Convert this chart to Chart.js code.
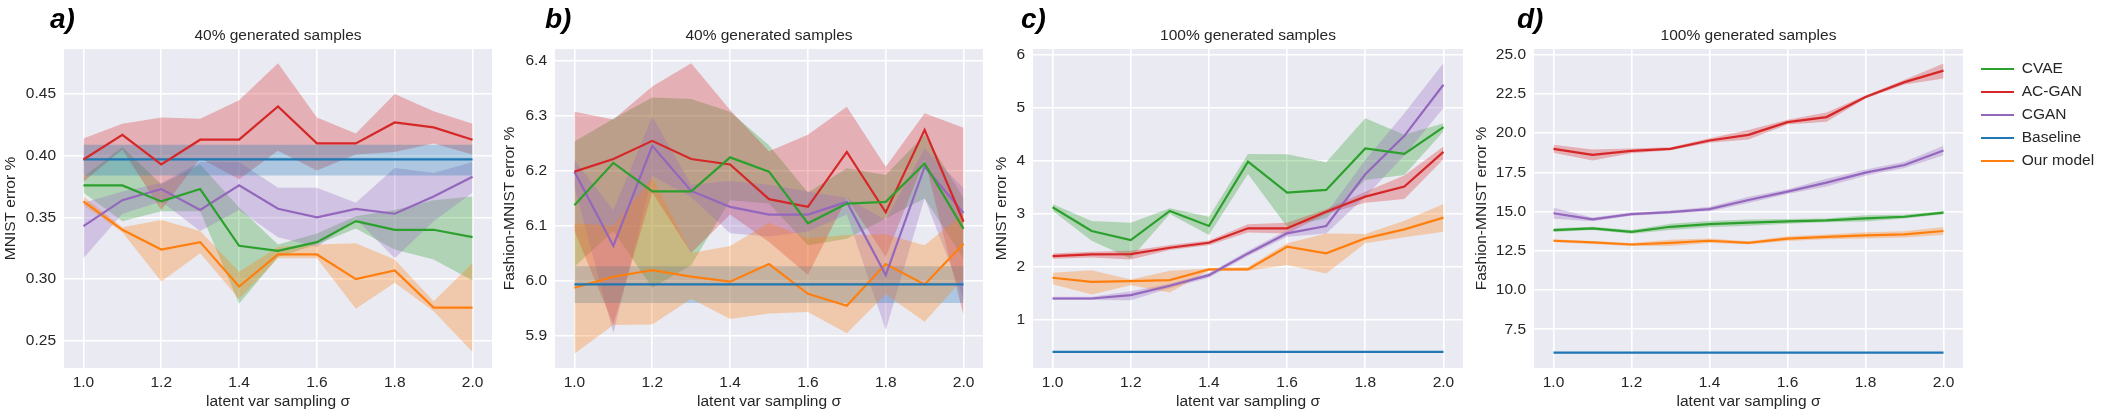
<!DOCTYPE html>
<html>
<head>
<meta charset="utf-8">
<script src="https://cdn.jsdelivr.net/npm/chart.js@4.4.1/dist/chart.umd.min.js"></script>
<style>
  html, body { margin: 0; padding: 0; background: #fff; }
  #wrap { position: relative; width: 2108px; height: 416px; }
  #wrap canvas { position: absolute; top: 0; }
</style>
</head>
<body>
<div id="wrap">
  <canvas id="pa" width="492" height="416" style="left:0px"></canvas>
  <canvas id="pb" width="483" height="416" style="left:500px"></canvas>
  <canvas id="pc" width="471" height="416" style="left:992px"></canvas>
  <canvas id="pd" width="636" height="416" style="left:1472px"></canvas>
</div>
<script>
// x values shared by every panel
const sigma = [1.0, 1.1, 1.2, 1.3, 1.4, 1.5, 1.6, 1.7, 1.8, 1.9, 2.0];
const xTicks = [1.0, 1.2, 1.4, 1.6, 1.8, 2.0];
const names = ['CVAE', 'AC-GAN', 'CGAN', 'Baseline', 'Our model'];

// a) MNIST, 40% generated samples
const aCvae     = [0.376, 0.376, 0.363, 0.373, 0.327, 0.323, 0.330, 0.347, 0.340, 0.340, 0.334];
const aCvaeLo   = [0.370, 0.347, 0.355, 0.355, 0.280, 0.318, 0.328, 0.341, 0.324, 0.316, 0.299];
const aCvaeHi   = [0.383, 0.407, 0.377, 0.393, 0.358, 0.328, 0.337, 0.351, 0.356, 0.364, 0.367];
const aAcgan    = [0.397, 0.417, 0.393, 0.413, 0.413, 0.440, 0.410, 0.410, 0.427, 0.423, 0.413];
const aAcganLo  = [0.379, 0.405, 0.356, 0.398, 0.381, 0.404, 0.388, 0.401, 0.403, 0.410, 0.401];
const aAcganHi  = [0.414, 0.426, 0.431, 0.430, 0.445, 0.475, 0.431, 0.418, 0.450, 0.436, 0.426];
const aCgan     = [0.343, 0.364, 0.373, 0.356, 0.376, 0.357, 0.350, 0.357, 0.353, 0.367, 0.383];
const aCganLo   = [0.317, 0.353, 0.363, 0.339, 0.356, 0.334, 0.326, 0.349, 0.317, 0.347, 0.370];
const aCganHi   = [0.362, 0.371, 0.378, 0.395, 0.395, 0.374, 0.374, 0.362, 0.390, 0.386, 0.395];
const aBase     = [0.397, 0.397, 0.397, 0.397, 0.397, 0.397, 0.397, 0.397, 0.397, 0.397, 0.397];
const aBaseLo   = [0.384, 0.384, 0.384, 0.384, 0.384, 0.384, 0.384, 0.384, 0.384, 0.384, 0.384];
const aBaseHi   = [0.409, 0.409, 0.409, 0.409, 0.409, 0.409, 0.409, 0.409, 0.409, 0.409, 0.409];
const aOurs     = [0.363, 0.340, 0.324, 0.330, 0.294, 0.320, 0.320, 0.300, 0.307, 0.277, 0.277];
const aOursLo   = [0.360, 0.338, 0.298, 0.321, 0.284, 0.317, 0.317, 0.276, 0.297, 0.274, 0.241];
const aOursHi   = [0.367, 0.342, 0.348, 0.339, 0.306, 0.326, 0.328, 0.329, 0.316, 0.282, 0.313];
const aYTicks   = ['0.25', '0.30', '0.35', '0.40', '0.45'];
const aYRange   = [0.228, 0.4865];

// b) Fashion-MNIST, 40% generated samples
const bCvae     = [6.137, 6.214, 6.162, 6.162, 6.224, 6.198, 6.104, 6.140, 6.143, 6.213, 6.094];
const bCvaeLo   = [6.025, 6.090, 5.987, 6.028, 6.146, 6.140, 6.064, 6.076, 6.113, 6.149, 6.040];
const bCvaeHi   = [6.253, 6.294, 6.333, 6.330, 6.307, 6.246, 6.160, 6.204, 6.192, 6.265, 6.150];
const bAcgan    = [6.198, 6.221, 6.254, 6.221, 6.211, 6.148, 6.134, 6.234, 6.124, 6.274, 6.107];
const bAcganLo  = [6.090, 5.920, 6.160, 6.050, 6.120, 6.070, 6.010, 6.150, 6.043, 6.220, 5.937];
const bAcganHi  = [6.307, 6.293, 6.353, 6.395, 6.310, 6.235, 6.265, 6.316, 6.207, 6.304, 6.278];
const bCgan     = [6.198, 6.063, 6.245, 6.163, 6.134, 6.120, 6.120, 6.143, 6.010, 6.207, 6.123];
const bCganLo   = [6.170, 5.904, 6.190, 6.152, 6.086, 6.080, 6.089, 6.120, 5.910, 6.150, 5.967];
const bCganHi   = [6.219, 6.128, 6.298, 6.174, 6.181, 6.174, 6.162, 6.150, 6.110, 6.240, 6.168];
const bBase     = [5.993, 5.993, 5.993, 5.993, 5.993, 5.993, 5.993, 5.993, 5.993, 5.993, 5.993];
const bBaseLo   = [5.959, 5.959, 5.959, 5.959, 5.959, 5.959, 5.959, 5.959, 5.959, 5.959, 5.959];
const bBaseHi   = [6.026, 6.026, 6.026, 6.026, 6.026, 6.026, 6.026, 6.026, 6.026, 6.026, 6.026];
const bOurs     = [5.987, 6.007, 6.019, 6.007, 5.998, 6.030, 5.976, 5.954, 6.030, 5.993, 6.067];
const bOursLo   = [5.867, 5.919, 5.920, 5.967, 5.930, 5.940, 5.943, 5.904, 5.975, 5.925, 6.004];
const bOursHi   = [6.104, 6.100, 6.187, 6.050, 6.063, 6.105, 6.077, 6.083, 6.084, 6.064, 6.122];
const bYTicks   = ['5.9', '6.0', '6.1', '6.2', '6.3', '6.4'];
const bYRange   = [5.841, 6.421];

// c) MNIST, 100% generated samples
const cCvae     = [3.126, 2.680, 2.510, 3.057, 2.774, 3.987, 3.403, 3.453, 4.233, 4.132, 4.635];
const cCvaeLo   = [3.063, 2.497, 2.164, 3.000, 2.604, 3.755, 2.761, 2.918, 3.642, 3.736, 4.553];
const cCvaeHi   = [3.190, 2.868, 2.836, 3.107, 2.950, 4.132, 4.126, 3.975, 4.805, 4.490, 4.711];
const cAcgan    = [2.208, 2.239, 2.245, 2.365, 2.459, 2.730, 2.730, 3.044, 3.327, 3.516, 4.170];
const cAcganLo  = [2.157, 2.180, 2.145, 2.320, 2.410, 2.650, 2.635, 3.000, 3.214, 3.283, 4.031];
const cAcganHi  = [2.258, 2.290, 2.310, 2.415, 2.500, 2.805, 2.836, 3.090, 3.421, 3.723, 4.270];
const cCgan     = [1.409, 1.409, 1.472, 1.648, 1.849, 2.258, 2.635, 2.774, 3.748, 4.472, 5.434];
const cCganLo   = [1.380, 1.380, 1.377, 1.600, 1.800, 2.210, 2.570, 2.635, 3.327, 4.100, 4.994];
const cCganHi   = [1.440, 1.440, 1.547, 1.690, 1.890, 2.310, 2.700, 3.013, 4.019, 4.899, 5.843];
const cBase     = [0.403, 0.403, 0.403, 0.403, 0.403, 0.403, 0.403, 0.403, 0.403, 0.403, 0.403];
const cBaseLo   = [0.395, 0.395, 0.395, 0.395, 0.395, 0.395, 0.395, 0.395, 0.395, 0.395, 0.395];
const cBaseHi   = [0.411, 0.411, 0.411, 0.411, 0.411, 0.411, 0.411, 0.411, 0.411, 0.411, 0.411];
const cOurs     = [1.799, 1.723, 1.736, 1.755, 1.956, 1.956, 2.384, 2.258, 2.541, 2.711, 2.931];
const cOursLo   = [1.679, 1.484, 1.660, 1.522, 1.931, 1.931, 2.038, 1.881, 2.447, 2.560, 2.667];
const cOursHi   = [1.893, 1.943, 1.767, 1.931, 1.975, 2.006, 2.447, 2.635, 2.623, 2.874, 3.189];
const cYTicks   = ['1', '2', '3', '4', '5', '6'];
const cYRange   = [0.10, 6.107];

// d) Fashion-MNIST, 100% generated samples
const dCvae     = [13.82, 13.93, 13.71, 14.03, 14.20, 14.29, 14.37, 14.44, 14.57, 14.67, 14.93];
const dCvaeLo   = [13.70, 13.83, 13.59, 13.83, 14.00, 14.09, 14.22, 14.32, 14.37, 14.55, 14.83];
const dCvaeHi   = [13.94, 14.03, 13.83, 14.23, 14.40, 14.49, 14.52, 14.56, 14.77, 14.79, 15.03];
const dAcgan    = [19.00, 18.61, 18.87, 19.00, 19.53, 19.89, 20.70, 21.02, 22.30, 23.25, 23.98];
const dAcganLo  = [18.75, 18.26, 18.72, 18.90, 19.38, 19.59, 20.55, 20.72, 22.20, 23.10, 23.48];
const dAcganHi  = [19.25, 18.96, 19.02, 19.10, 19.68, 20.19, 20.85, 21.32, 22.40, 23.40, 24.44];
const dCgan     = [14.89, 14.50, 14.84, 14.97, 15.16, 15.74, 16.27, 16.84, 17.48, 17.97, 18.89];
const dCganLo   = [14.54, 14.38, 14.74, 14.87, 15.01, 15.54, 16.12, 16.59, 17.28, 17.77, 18.59];
const dCganHi   = [15.24, 14.62, 14.94, 15.07, 15.31, 15.94, 16.42, 17.09, 17.68, 18.17, 19.19];
const dBase     = [6.005, 6.005, 6.005, 6.005, 6.005, 6.005, 6.005, 6.005, 6.005, 6.005, 6.005];
const dBaseLo   = [5.975, 5.975, 5.975, 5.975, 5.975, 5.975, 5.975, 5.975, 5.975, 5.975, 5.975];
const dBaseHi   = [6.035, 6.035, 6.035, 6.035, 6.035, 6.035, 6.035, 6.035, 6.035, 6.035, 6.035];
const dOurs     = [13.14, 13.03, 12.90, 13.01, 13.14, 13.01, 13.27, 13.39, 13.48, 13.54, 13.76];
const dOursLo   = [13.04, 12.93, 12.80, 12.81, 12.99, 12.91, 13.12, 13.24, 13.28, 13.34, 13.51];
const dOursHi   = [13.24, 13.13, 13.00, 13.21, 13.29, 13.11, 13.42, 13.54, 13.68, 13.74, 14.01];
const dYTicks   = ['7.5', '10.0', '12.5', '15.0', '17.5', '20.0', '22.5', '25.0'];
const dYRange   = [5.03, 25.36];

const colors = { 'CVAE': '#2ca02c', 'AC-GAN': '#d62728', 'CGAN': '#9467bd', 'Baseline': '#1f77b4', 'Our model': '#ff7f0e' };
const FONT = '"Liberation Sans", Arial, sans-serif';
const INK = '#262626';

Chart.defaults.font.family = FONT;
Chart.defaults.color = INK;

function pts(vals) { return sigma.map((s, i) => ({ x: s, y: vals[i] })); }

function alpha(hex, a) {
  const n = parseInt(hex.slice(1), 16);
  return `rgba(${n >> 16}, ${(n >> 8) & 255}, ${n & 255}, ${a})`;
}

// mean lines first (drawn on top); bands after them, reversed so that
// CVAE's band is painted first and Our model's last, as in the original
function buildDatasets(series) {
  const lines = [], bands = [];
  series.forEach(([mean, lo, hi], k) => {
    const c = colors[names[k]];
    lines.push({ label: names[k], data: pts(mean), borderColor: c, backgroundColor: c,
      borderWidth: 2.2, pointRadius: 0, fill: false, order: 0 });
  });
  for (let k = series.length - 1; k >= 0; k--) {
    const [, lo, hi] = series[k];
    const c = colors[names[k]];
    bands.push({ label: '', band: true, data: pts(lo), borderWidth: 0, borderColor: 'rgba(0,0,0,0)',
      pointRadius: 0, fill: false, order: 1 });
    bands.push({ label: '', band: true, data: pts(hi), borderWidth: 0, borderColor: 'rgba(0,0,0,0)',
      pointRadius: 0, fill: '-1', backgroundColor: alpha(c, 0.3), order: 1 });
  }
  return lines.concat(bands);
}

const plotBg = {
  id: 'plotBg',
  beforeDraw(chart) {
    const { ctx, chartArea: a } = chart;
    ctx.save();
    ctx.fillStyle = '#eaeaf2';
    ctx.fillRect(a.left, a.top, a.right - a.left, a.bottom - a.top);
    ctx.restore();
  }
};

const panelTag = {
  id: 'panelTag',
  afterDraw(chart, args, o) {
    const ctx = chart.ctx;
    ctx.save();
    ctx.font = `italic bold 28px ${FONT}`;
    ctx.fillStyle = '#000';
    ctx.textBaseline = 'alphabetic';
    ctx.fillText(o.text, o.x, o.y);
    ctx.restore();
  }
};

// the legend takes no room from the plot; move its box out past the plot edge
const legendNudge = {
  id: 'legendNudge',
  afterLayout(chart, args, o) {
    const lg = chart.legend;
    if (!lg || !lg.options.display) return;
    lg.left += o.dx;
    lg.right = lg.left + o.w;
    lg.width = o.w;
    lg.top += o.dy;
    lg.bottom += o.dy;
  }
};

function makePanel(id, p) {
  new Chart(document.getElementById(id), {
    type: 'line',
    data: { datasets: buildDatasets(p.series) },
    options: {
      responsive: false,
      animation: false,
      devicePixelRatio: 1,
      layout: { padding: { top: 0, left: 0, bottom: 0, right: p.padRight || 0 } },
      scales: {
        x: {
          type: 'linear', min: 0.95, max: 2.05,
          afterBuildTicks: s => { s.ticks = xTicks.map(v => ({ value: v })); },
          afterFit: s => { s.height = 48; },
          grid: { color: '#ffffff', lineWidth: 1.6, drawTicks: false },
          border: { display: false },
          ticks: { padding: 5, autoSkip: false, maxRotation: 0, font: { size: 15.5 },
            callback: v => v.toFixed(1) },
          title: { display: true, text: 'latent var sampling σ', font: { size: 15.5 },
            padding: { top: 0, bottom: 4.7 } }
        },
        y: {
          type: 'linear', min: p.yRange[0], max: p.yRange[1],
          afterBuildTicks: s => { s.ticks = p.yTicks.map(t => ({ value: parseFloat(t) })); },
          afterFit: s => { s.width = p.yWidth; },
          grid: { color: '#ffffff', lineWidth: 1.6, drawTicks: false },
          border: { display: false },
          ticks: { padding: 8, autoSkip: false, font: { size: 15.5 },
            callback: (v, i) => p.yTicks[i] },
          title: { display: true, text: p.yTitle, font: { size: 15.5 },
            padding: { top: p.yTitlePad, bottom: 0 } }
        }
      },
      plugins: {
        title: { display: true, text: p.title, fullSize: false, color: INK,
          font: { size: 15.5, weight: 'normal' }, padding: { top: 26.2, bottom: 4.2 } },
        legend: {
          display: !!p.legend, position: 'right', align: 'start', fullSize: false, maxWidth: 1,
          labels: { font: { size: 15.5 }, color: INK, padding: 7.5,
            usePointStyle: true, pointStyle: 'line', pointStyleWidth: 33,
            filter: (item, data) => !data.datasets[item.datasetIndex].band }
        },
        tooltip: { enabled: false },
        panelTag: { text: p.tag, x: p.tagX, y: 28 },
        legendNudge: { dx: 10.5, dy: 4.75, w: 180 }
      }
    },
    plugins: [plotBg, panelTag, legendNudge]
  });
}

makePanel('pa', {
  tag: 'a)', tagX: 50, title: '40% generated samples', yTitle: 'MNIST error %',
  yWidth: 64, yTitlePad: 1.7, yTicks: aYTicks, yRange: aYRange,
  series: [[aCvae, aCvaeLo, aCvaeHi], [aAcgan, aAcganLo, aAcganHi], [aCgan, aCganLo, aCganHi],
           [aBase, aBaseLo, aBaseHi], [aOurs, aOursLo, aOursHi]]
});
makePanel('pb', {
  tag: 'b)', tagX: 45, title: '40% generated samples', yTitle: 'Fashion-MNIST error %',
  yWidth: 55, yTitlePad: 0.7, yTicks: bYTicks, yRange: bYRange,
  series: [[bCvae, bCvaeLo, bCvaeHi], [bAcgan, bAcganLo, bAcganHi], [bCgan, bCganLo, bCganHi],
           [bBase, bBaseLo, bBaseHi], [bOurs, bOursLo, bOursHi]]
});
makePanel('pc', {
  tag: 'c)', tagX: 29, title: '100% generated samples', yTitle: 'MNIST error %',
  yWidth: 41, yTitlePad: 0.7, yTicks: cYTicks, yRange: cYRange,
  series: [[cCvae, cCvaeLo, cCvaeHi], [cAcgan, cAcganLo, cAcganHi], [cCgan, cCganLo, cCganHi],
           [cBase, cBaseLo, cBaseHi], [cOurs, cOursLo, cOursHi]]
});
makePanel('pd', {
  tag: 'd)', tagX: 45, title: '100% generated samples', yTitle: 'Fashion-MNIST error %',
  yWidth: 62, yTitlePad: 0.7, yTicks: dYTicks, yRange: dYRange, legend: true, padRight: 144,
  series: [[dCvae, dCvaeLo, dCvaeHi], [dAcgan, dAcganLo, dAcganHi], [dCgan, dCganLo, dCganHi],
           [dBase, dBaseLo, dBaseHi], [dOurs, dOursLo, dOursHi]]
});
</script>
</body>
</html>
